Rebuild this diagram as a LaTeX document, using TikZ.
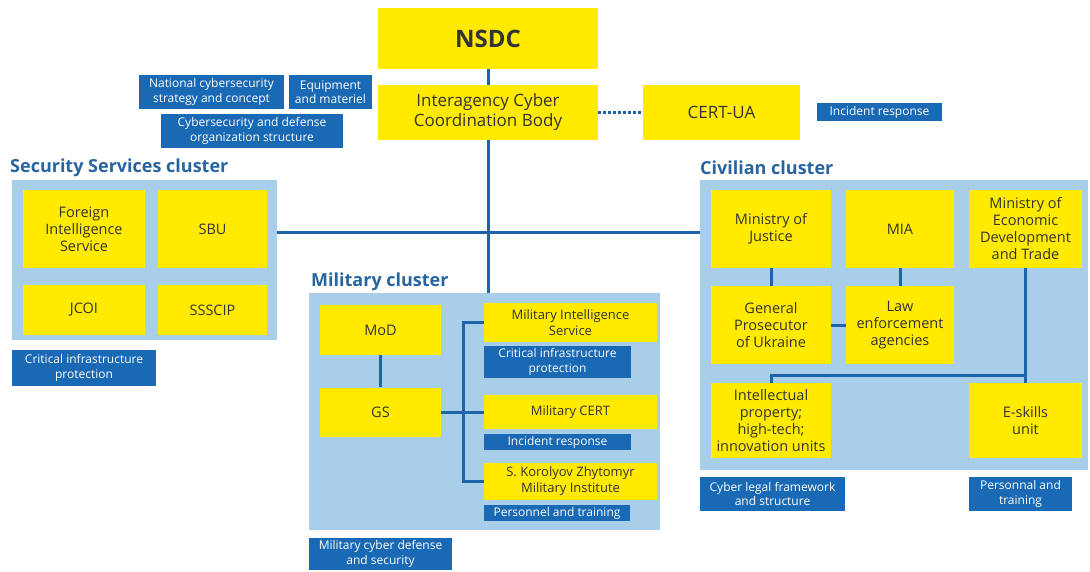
\documentclass[tikz,border=0pt]{standalone}
\usepackage{fontspec}
\setmainfont{Open Sans}
\usepackage{tikz}
\usetikzlibrary{positioning}

\definecolor{unityellow}{HTML}{FFEA00}
\definecolor{tagblue}{HTML}{1A69B4}
\definecolor{clusterblue}{HTML}{A8CEEA}
\definecolor{linkblue}{HTML}{1E64AA}
\definecolor{titleblue}{HTML}{2864A0}

\begin{document}
\begin{tikzpicture}[x=1pt, y=-1pt,
        unit/.style = {fill=unityellow, inner sep=0pt, align=center, text=black!80,
                       font=\fontsize{14.5}{17}\selectfont},
        tag/.style = {fill=tagblue, inner sep=0pt, align=center, text=white,
                      font=\fontsize{12}{14.5}\selectfont},
        cluster/.style = {fill=clusterblue, inner sep=0pt},
        title/.style = {anchor=west, inner sep=0pt, text=titleblue,
                        font=\fontsize{18}{20}\selectfont\bfseries},
        link/.style = {draw=linkblue, line width=3pt}]
                \useasboundingbox (0,0) rectangle (1090,571);

                % top level
                \node[unit, minimum width=220pt, minimum height=61pt, font=\fontsize{24}{26}\selectfont\bfseries] at (488, 38.5) (nsdc) {NSDC};
                \node[unit, minimum width=220pt, minimum height=55pt, font=\fontsize{17}{20}\selectfont] at (488, 112.5) (iccb) {Interagency Cyber\\Coordination Body};
                \node[unit, minimum width=157pt, minimum height=55pt, font=\fontsize{17}{20}\selectfont] at (721.5, 112.5) (certua) {CERT-UA};
                \node[tag, minimum width=125pt, minimum height=18pt] at (879.5, 112) (certtask) {Incident response};
                \node[tag, minimum width=145pt, minimum height=34pt] at (211.5, 92) (strategy) {National cybersecurity\\strategy and concept};
                \node[tag, minimum width=83pt, minimum height=34pt] at (330.5, 92) (equipment) {Equipment\\and materiel};
                \node[tag, minimum width=182pt, minimum height=34pt] at (252, 131) (orgstruct) {Cybersecurity and defense\\organization structure};

                % clusters
                \node[cluster, minimum width=265pt, minimum height=160pt] at (144.5, 260) (secbg) {};
                \node[cluster, minimum width=351pt, minimum height=237pt] at (484.5, 411.5) (milbg) {};
                \node[cluster, minimum width=388pt, minimum height=290pt] at (894, 325) (civbg) {};
                \node[title] at (10, 168) (sectitle) {Security Services cluster};
                \node[title] at (311, 282) (miltitle) {Military cluster};
                \node[title] at (700, 168) (civtitle) {Civilian cluster};

                \coordinate (hub) at (488, 232);
                \coordinate (milbus) at (463, 412);
                \coordinate (civbus) at (1025.5, 375);

                \draw[link] (nsdc) -- (iccb);
                \draw[link, dotted] (iccb) -- (certua);
                \draw[link] (iccb.south) -- (iccb.south |- milbg.north);
                \draw[link] (secbg.east |- hub) -- (civbg.west |- hub);

                % security services
                \node[unit, minimum width=122pt, minimum height=78pt] at (84, 229) (fis) {Foreign\\Intelligence\\Service};
                \node[unit, minimum width=109pt, minimum height=78pt] at (212.5, 229) (sbu) {SBU};
                \node[unit, minimum width=122pt, minimum height=50pt] at (84, 310) (jcoi) {JCOI};
                \node[unit, minimum width=109pt, minimum height=50pt] at (212.5, 310) (ssscip) {SSSCIP};
                \node[tag, minimum width=144pt, minimum height=36pt] at (84, 368) (sectask) {Critical infrastructure\\protection};

                % military
                \node[unit, minimum width=121pt, minimum height=50pt] at (380.5, 330) (mod) {MoD};
                \node[unit, minimum width=121pt, minimum height=49pt] at (380.5, 412) (gs) {GS};
                \node[unit, minimum width=173pt, minimum height=39pt, font=\fontsize{13}{16}\selectfont] at (570.5, 322.5) (mis) {Military Intelligence\\Service};
                \node[tag, minimum width=147pt, minimum height=32pt] at (557.5, 362) (mistask) {Critical infrastructure\\protection};
                \node[unit, minimum width=173pt, minimum height=34pt, font=\fontsize{13}{16}\selectfont] at (570.5, 412) (milcert) {Military CERT};
                \node[tag, minimum width=147pt, minimum height=16pt] at (557.5, 442) (milcerttask) {Incident response};
                \node[unit, minimum width=173pt, minimum height=37pt, font=\fontsize{13}{16}\selectfont] at (570.5, 481.5) (zmi) {S. Korolyov Zhytomyr\\Military Institute};
                \node[tag, minimum width=146pt, minimum height=16pt] at (557, 513) (zmitask) {Personnel and training};
                \node[tag, minimum width=143pt, minimum height=32pt] at (380.5, 554) (miltask) {Military cyber defense\\and security};

                \draw[link] (mod) -- (gs);
                \draw[link] (gs) -- (milcert);
                \draw[link] (mis.west) -| (milbus) |- (zmi.west);

                % civilian
                \node[unit, minimum width=120pt, minimum height=78pt] at (771, 229) (moj) {Ministry of\\Justice};
                \node[unit, minimum width=108pt, minimum height=78pt] at (900, 229) (mia) {MIA};
                \node[unit, minimum width=113pt, minimum height=78pt] at (1025.5, 229) (medt) {Ministry of\\Economic\\Development\\and Trade};
                \node[unit, minimum width=120pt, minimum height=78pt] at (771, 325) (gpu) {General\\Prosecutor\\of Ukraine};
                \node[unit, minimum width=108pt, minimum height=78pt] at (900, 325) (lea) {Law\\enforcement\\agencies};
                \node[unit, minimum width=120pt, minimum height=75pt] at (771, 420.5) (ipunits) {Intellectual\\property;\\high-tech;\\innovation units};
                \node[unit, minimum width=113pt, minimum height=75pt] at (1025.5, 420.5) (eskills) {E-skills\\unit};
                \node[tag, minimum width=145pt, minimum height=34pt] at (772.5, 494) (legaltask) {Cyber legal framework\\and structure};
                \node[tag, minimum width=103pt, minimum height=34pt] at (1020.5, 494) (eskillstask) {Personnal and\\training};

                \draw[link] (moj) -- (gpu);
                \draw[link] (mia) -- (lea);
                \draw[link] (gpu) -- (lea);
                \draw[link] (medt) -- (eskills);
                \draw[link] (ipunits.north) |- (civbus);
            \end{tikzpicture}
\end{document}
